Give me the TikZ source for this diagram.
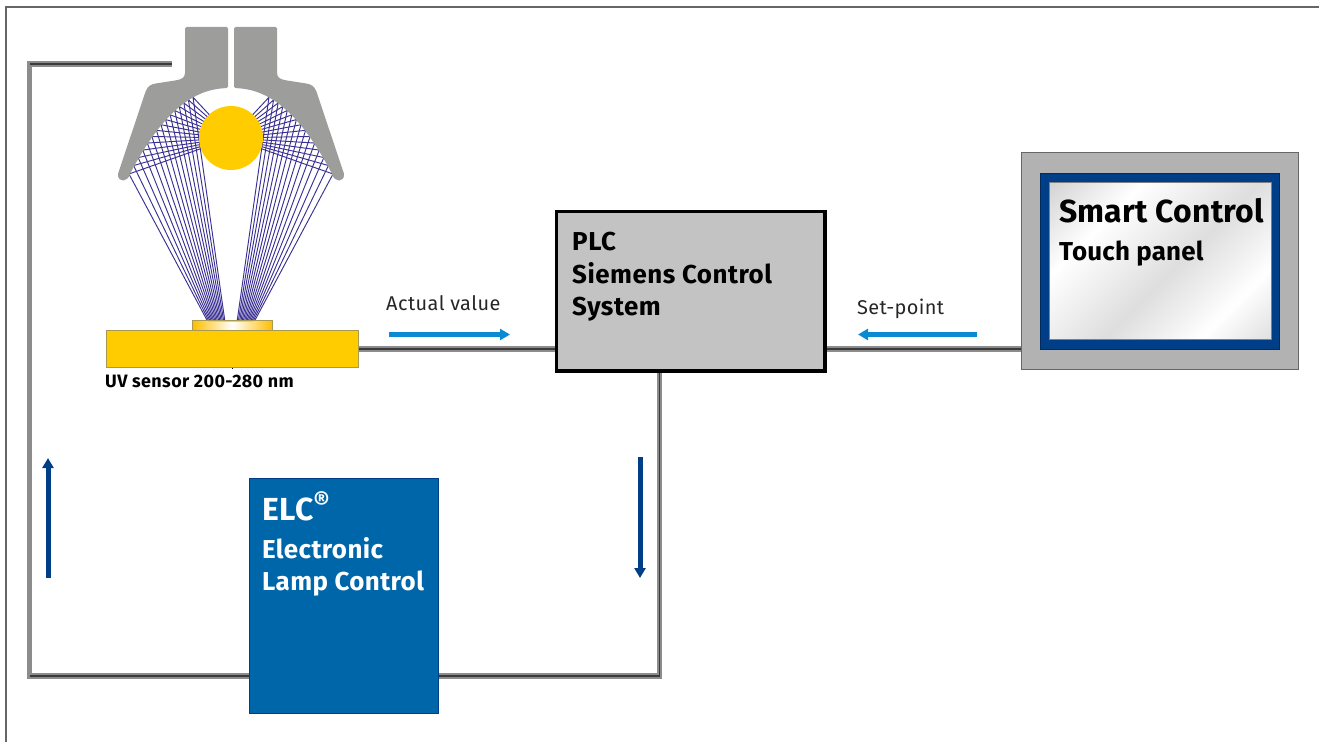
\documentclass[tikz,border=0pt]{standalone}
\usepackage{fontspec}
\setmainfont{Fira Sans}
\usetikzlibrary{arrows.meta,calc}
\definecolor{raycol}{HTML}{3A3192}
\definecolor{reflgray}{HTML}{9D9D9C}
\definecolor{lampyel}{HTML}{FFCC00}
\definecolor{sensedge}{HTML}{A89A50}
\definecolor{wiregray}{HTML}{8C8C8C}
\definecolor{wiredark}{HTML}{3A3A3A}
\definecolor{plcgray}{HTML}{C3C3C3}
\definecolor{elcblue}{HTML}{0066AA}
\definecolor{navy}{HTML}{003F87}
\definecolor{skyarrow}{HTML}{0A8AD2}
\definecolor{panelgray}{HTML}{B2B2B2}
\pgfdeclarehorizontalshading{screenshade}{100bp}{
 color(0bp)=(black!18);color(14bp)=(black!18);color(32bp)=(white);color(54bp)=(black!13);
 color(72bp)=(white);color(86bp)=(black!13);color(100bp)=(black!13)}
\tikzset{
 x=1bp,y=-1bp,
 rays/.style={draw=raycol,line width=0.95bp},
 reflector/.style={draw=reflgray,fill=reflgray,line width=3bp,line join=round},
 box/.style={rectangle,inner sep=0pt,anchor=north west},
 wirebody/.style={draw=wiregray,line width=5.5bp,line join=miter},
 wirestripe/.style={draw=wiredark,line width=1.8bp},
 lightarrow/.style={draw=skyarrow,line width=5bp,-{Triangle[length=10bp,width=11bp]}},
 darkarrow/.style={draw=navy,line width=5bp,-{Triangle[length=10bp,width=11bp]}},
 lab/.style={anchor=base west,inner sep=0pt,align=left}
}
\newcommand{\lsp}[1]{\addfontfeatures{LetterSpace=#1}}
\newcommand{\halfrefl}{
 \foreach \i in {0,...,14}{
  \pgfmathsetmacro{\dd}{102-64*\i/14}
  \pgfmathsetmacro{\py}{88+86*pow(\dd/102,2.26)}
  \pgfmathsetmacro{\px}{231-\dd}
  \pgfmathsetmacro{\sx}{208+17*\i/14}
  \draw[rays] (\sx,322) -- (\px,\py) -- (231,138);
 }
 \path[reflector] (186.5,28.5) -- (226.5,28.5) -- (226.5,86.5)
  -- plot[domain=6:102,samples=30] ({231-\x},{86.5+86*pow(\x/102,2.26)})
  .. controls (127,181) and (119,181) .. (119.5,174)
  -- (147,92) .. controls (149,87) and (152,85.5) .. (156,85)
  -- (175,82) .. controls (182,81) and (186.5,79) .. (186.5,73) -- cycle;
}
\begin{document}
\begin{tikzpicture}
\useasboundingbox (0,0) rectangle (1319,742);
% frame
\coordinate (ftr) at (1319,7);
\coordinate (ftl) at (6,7);
\coordinate (fbl) at (6,742);
\draw[draw=black!60,line width=1.3bp] (ftr) -- (ftl) -- (fbl);
% coordinates of the loop
\coordinate (topend) at (172,64);
\coordinate (tl) at (29.5,64);
\coordinate (bl) at (29.5,676);
\coordinate (br) at (659.5,676);
% boxes
\node[box,minimum width=252bp,minimum height=37bp,fill=lampyel,draw=sensedge,line width=0.8bp] (sensor) at (106,330) {};
\node[box,minimum width=268bp,minimum height=159bp] (plc) at (556.5,211.5) {};
\node[box,minimum width=189bp,minimum height=235bp] (elc) at (249,478) {};
\node[box,minimum width=277.5bp,minimum height=217bp] (panel) at (1021,152.5) {};
% wires
\draw[wirebody] (topend) -- (tl) -- (bl) -- (bl -| elc.west);
\draw[wirebody] (elc.east |- br) -- (br) -- (plc.south -| br);
\draw[wirebody] (sensor.east) -- (sensor.east -| plc.west);
\draw[wirebody] (plc.east |- sensor.east) -- (panel.west |- sensor.east);
\draw[wirestripe,yshift=-2bp] (topend) -- (tl);
\draw[wirestripe,yshift=2bp] (bl) -- (bl -| elc.west);
\draw[wirestripe,yshift=2bp] (elc.east |- br) -- (br);
\draw[wirestripe,yshift=1.7bp] (sensor.east) -- (sensor.east -| plc.west);
\draw[wirestripe,yshift=1.7bp] (plc.east |- sensor.east) -- (panel.west |- sensor.east);
\draw[draw=wiredark,line width=1bp,xshift=-1.5bp] (br) -- (plc.south -| br);
\draw[draw=black,line width=0.8bp] (sensor.south) -- ++(0,1.5);
% boxes drawn over wires
\path[fill=plcgray,draw=black,line width=3.5bp] (plc.north west) rectangle (plc.south east);
\path[fill=elcblue,draw=navy,line width=0.8bp] (elc.north west) rectangle (elc.south east);
\path[fill=panelgray,draw=black!60,line width=1bp] (panel.north west) rectangle (panel.south east);
\node[box,minimum width=239bp,minimum height=176bp,fill=navy,draw=navy!70!black,line width=0.8bp] (bezel) at (1040,173) {};
\node[box,minimum width=222bp,minimum height=157bp,shading=screenshade,shading angle=-45,draw=black!50,line width=1bp] (screen) at (1049,182) {};
% reflector, rays, lamp
\halfrefl
\begin{scope}[shift={(462,0)},xscale=-1]
\halfrefl
\end{scope}
\node[circle,fill=lampyel,minimum size=64bp,inner sep=0pt] (lamp) at (231,138) {};
% detector cap
\node[box,minimum width=80bp,minimum height=10bp,left color=lampyel!80!orange,right color=lampyel!80!orange,middle color=white,draw=sensedge,line width=0.8bp] (cap) at (192,320) {};
\node[box,minimum width=46bp,minimum height=1.5bp,fill=black!20] (win) at (208,320.5) {};
% arrows
\coordinate (a1s) at (389,334.5); \coordinate (a1e) at (510,334.5);
\coordinate (a2s) at (977,334.5); \coordinate (a2e) at (858,334.5);
\coordinate (a3s) at (48,578);  \coordinate (a3e) at (48,458);
\coordinate (a4s) at (640,457); \coordinate (a4e) at (640,578);
\draw[lightarrow] (a1s) -- (a1e);
\draw[lightarrow] (a2s) -- (a2e);
\draw[darkarrow] (a3s) -- (a3e);
\draw[darkarrow] (a4s) -- (a4e);
% labels
\node[lab] (t1) at (105,387) {\fontsize{18}{20}\selectfont\bfseries\lsp{2.2}UV sensor 200-280 nm};
\node[lab,text=black!85] (t2) at (386,310) {\fontsize{20}{24}\selectfont\lsp{2.2}Actual value};
\node[lab,text=black!85] (t3) at (857,314) {\fontsize{20}{24}\selectfont\lsp{1.7}Set-point};
\node[lab] (t4) at (572,250) {\fontsize{26}{30}\selectfont\bfseries\lsp{2}PLC};
\node[lab] (t5) at (572,283) {\fontsize{26}{30}\selectfont\bfseries\lsp{2}Siemens Control};
\node[lab] (t6) at (572,315) {\fontsize{26}{30}\selectfont\bfseries\lsp{2}System};
\node[lab,text=white] (t7) at (262,520) {\fontsize{32}{36}\selectfont\bfseries\lsp{2}ELC\raisebox{0.3em}{\fontsize{25}{27}\selectfont ®}};
\node[lab,text=white] (t8) at (262,558) {\fontsize{26}{30}\selectfont\bfseries\lsp{1.6}Electronic};
\node[lab,text=white] (t9) at (262,590) {\fontsize{26}{30}\selectfont\bfseries\lsp{1.6}Lamp Control};
\node[lab] (t10) at (1059,222) {\fontsize{32}{36}\selectfont\bfseries\lsp{0.7}Smart Control};
\node[lab] (t11) at (1059,260) {\fontsize{26}{30}\selectfont\bfseries\lsp{0.9}Touch panel};
\end{tikzpicture}
\end{document}
